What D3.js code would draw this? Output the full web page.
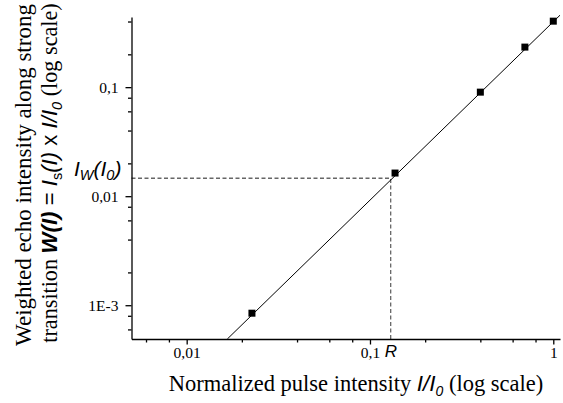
<!DOCTYPE html>
<html>
<head>
<meta charset="utf-8">
<script src="https://cdn.jsdelivr.net/npm/d3@7"></script>
<style>
  body { margin: 0; background: #fff; }
</style>
</head>
<body>
<div id="chart"></div>
<script>
// measured points: pulse intensity I/I0 vs weighted echo W(I)
const pulseX = [0.0227, 0.137, 0.40, 0.70, 1.0];
const echoW = [8.45e-4, 0.0163, 0.090, 0.233, 0.403];

// fitted line end points
const fitX = [0.01666, 1.088];
const fitW = [4.9e-4, 0.457];

// reference point R / I_W(I0)
const refX = 0.1297;
const refW = 0.0146;

// ticks
const xMajor = [0.01, 0.1, 1];
const xMajorLabels = ["0,01", "0,1", "1"];
const xMinor = [0.006, 0.008, 0.02, 0.04, 0.06, 0.08, 0.2, 0.4, 0.6, 0.8];
const yMajor = [0.001, 0.01, 0.1];
const yMajorLabels = ["1E-3", "0,01", "0,1"];
const yMinor = [6e-4, 8e-4, 0.002, 0.004, 0.006, 0.008, 0.02, 0.04, 0.06, 0.08, 0.2, 0.4];

const width = 563;
const height = 403;
const marginLeft = 131.5;
const marginRight = 3;
const marginTop = 17;
const marginBottom = 64;

const serif = "'Liberation Serif', 'Times New Roman', serif";
const sans = "'Liberation Sans', Arial, sans-serif";

var x = d3.scaleLog([0.005, 1.088], [marginLeft, width - marginRight]);
var y = d3.scaleLog([4.9e-4, 0.44], [height - marginBottom, marginTop]);

const svg = d3.create("svg")
    .attr("width", width)
    .attr("height", height);

// dashed guide lines
svg.append("path")
    .attr("fill", "none")
    .attr("stroke", "#666")
    .attr("stroke-width", 1.3)
    .attr("stroke-dasharray", "4,2.5")
    .attr("d", `M${marginLeft},${y(refW)}H${x(refX)}V${height - marginBottom}`);

// fit line
const line = d3.line()
    .x((d, i) => x(fitX[i]))
    .y((d, i) => y(fitW[i]));

svg.append("path")
    .attr("fill", "none")
    .attr("stroke", "#000")
    .attr("stroke-width", 1)
    .attr("d", line(fitX));

// squares
svg.append("g")
    .selectAll("rect")
    .data(pulseX)
    .join("rect")
    .attr("x", (d, i) => x(d) - 3.5)
    .attr("y", (d, i) => y(echoW[i]) - 3.5)
    .attr("width", 7)
    .attr("height", 7)
    .attr("fill", "#000");

// x-axis
var x_axis = svg.append("g")
    .attr("transform", `translate(0,${height - marginBottom})`)
    .call(d3.axisBottom(x).tickValues(xMajor).tickSize(5.5).tickSizeOuter(0)
        .tickFormat((d, i) => xMajorLabels[i]));
svg.append("g")
    .attr("transform", `translate(0,${height - marginBottom})`)
    .call(d3.axisBottom(x).tickValues(xMinor).tickSize(3.5).tickSizeOuter(0).tickFormat(""))
    .select(".domain").remove();

// y-axis
var y_axis = svg.append("g")
    .attr("transform", `translate(${marginLeft},0)`)
    .call(d3.axisLeft(y).tickValues(yMajor).tickSize(6).tickSizeOuter(0)
        .tickFormat((d, i) => yMajorLabels[i]));
svg.append("g")
    .attr("transform", `translate(${marginLeft},0)`)
    .call(d3.axisLeft(y).tickValues(yMinor).tickSize(3.5).tickSizeOuter(0).tickFormat(""))
    .select(".domain").remove();

svg.selectAll(".domain, .tick line")
    .attr("stroke", "#000")
    .attr("stroke-width", 1.3);

x_axis.selectAll(".tick text")
    .attr("font-family", serif)
    .attr("font-size", 15.5)
    .attr("fill", "#000")
    .attr("y", 19)
    .attr("dy", 0);

y_axis.selectAll(".tick text")
    .attr("font-family", serif)
    .attr("font-size", 15.5)
    .attr("fill", "#000")
    .attr("x", -13);

// R label
svg.append("text")
    .attr("x", x(refX) - 6)
    .attr("y", height - marginBottom + 18)
    .attr("font-family", sans)
    .attr("font-style", "italic")
    .attr("font-size", 17)
    .text("R");

// I_W(I_0) label
const iw = svg.append("text")
    .attr("x", 74)
    .attr("y", 176)
    .attr("font-family", sans)
    .attr("font-style", "italic")
    .attr("font-size", 21);
iw.append("tspan").text("I");
iw.append("tspan").attr("font-size", 14.5).attr("dy", 4).text("W");
iw.append("tspan").attr("dy", -4).text("(I");
iw.append("tspan").attr("font-size", 14.5).attr("dy", 4).text("0");
iw.append("tspan").attr("dy", -4).text(")");

// x title
const xt = svg.append("text")
    .attr("x", 356)
    .attr("y", 391)
    .attr("text-anchor", "middle")
    .attr("font-family", serif)
    .attr("font-size", 22.5);
xt.append("tspan").text("Normalized pulse intensity ");
xt.append("tspan").attr("font-family", sans).attr("font-style", "italic").text("I/I");
xt.append("tspan").attr("font-family", sans).attr("font-style", "italic")
    .attr("font-size", 14).attr("dy", 5).text("0");
xt.append("tspan").attr("dy", -5).text(" (log scale)");

// y title, two lines
svg.append("text")
    .attr("transform", "translate(31,175) rotate(-90)")
    .attr("text-anchor", "middle")
    .attr("font-family", serif)
    .attr("font-size", 23)
    .text("Weighted echo intensity along strong");

const yt = svg.append("text")
    .attr("transform", "translate(57,173) rotate(-90)")
    .attr("text-anchor", "middle")
    .attr("font-family", serif)
    .attr("font-size", 22.2);
yt.append("tspan").text("transition ");
yt.append("tspan").attr("font-family", sans).attr("font-style", "italic").attr("font-weight", "bold").text("W(I)");
yt.append("tspan").attr("font-family", sans).text(" = ");
yt.append("tspan").attr("font-family", sans).attr("font-style", "italic").text("I");
yt.append("tspan").attr("font-family", sans).attr("font-size", 14.5).attr("dy", 5).text("s");
yt.append("tspan").attr("font-family", sans).attr("font-style", "italic").attr("dy", -5).text("(I)");
yt.append("tspan").attr("font-family", sans).text(" x ");
yt.append("tspan").attr("font-family", sans).attr("font-style", "italic").text("I/I");
yt.append("tspan").attr("font-family", sans).attr("font-style", "italic").attr("font-size", 14.5).attr("dy", 5).text("0");
yt.append("tspan").attr("dy", -5).text(" (log scale)");

chart.append(svg.node());
</script>
</body>
</html>
